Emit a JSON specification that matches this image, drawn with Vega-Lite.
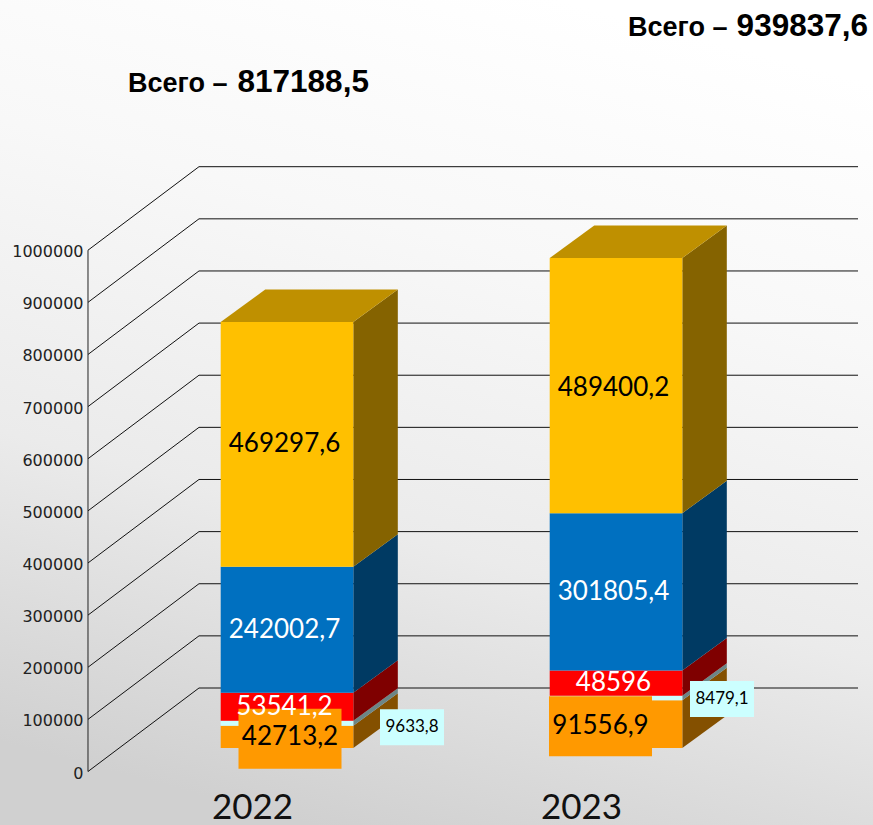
{
"$schema":"https://vega.github.io/schema/vega-lite/v6.json",
"width":873,"height":825,"padding":0,"autosize":{"type":"none"},
"background":"#ffffff",
"config":{"view":{"stroke":null}},
"datasets":{
"segments":[
{"year":2022,"series":"Ряд 1","order":1,"value":42713.2},
{"year":2022,"series":"Ряд 2","order":2,"value":9633.8},
{"year":2022,"series":"Ряд 3","order":3,"value":53541.2},
{"year":2022,"series":"Ряд 4","order":4,"value":242002.7},
{"year":2022,"series":"Ряд 5","order":5,"value":469297.6},
{"year":2023,"series":"Ряд 1","order":1,"value":91556.9},
{"year":2023,"series":"Ряд 2","order":2,"value":8479.1},
{"year":2023,"series":"Ряд 3","order":3,"value":48596},
{"year":2023,"series":"Ряд 4","order":4,"value":301805.4},
{"year":2023,"series":"Ряд 5","order":5,"value":489400.2}
],
"ticks":[{"tick":0},{"tick":100000},{"tick":200000},{"tick":300000},{"tick":400000},{"tick":500000},{"tick":600000},{"tick":700000},{"tick":800000},{"tick":900000},{"tick":1000000}],
"totals":[{"year":2022,"total":817188.5},{"year":2023,"total":939837.6}]
},
"data":{"name":"segments"},
"transform":[
{"stack":"value","groupby":["year"],"sort":[{"field":"order","order":"ascending"}],"as":["s0","s1"]},
{"calculate":"datum.s0+45080","as":"lo"},
{"calculate":"datum.s1+45080","as":"hi"},
{"calculate":"datum.year-0.2015","as":"left"},
{"calculate":"datum.year+0.2015","as":"right"},
{"calculate":"datum.order==1?(datum.year==2022?3:-15.5):datum.order==2?(datum.year==2022?125:106):-2.5","as":"dxp"},
{"calculate":"datum.order==2?(datum.year==2022?4:1):(datum.order==1&&datum.year==2023)?2:(datum.order==5&&datum.year==2023)?2:0","as":"dyp"},
{"calculate":"datum.year+datum.dxp/329","as":"lx"},
{"calculate":"(datum.lo+datum.hi)/2-datum.dyp*1918.3","as":"ly"}
],
"layer":[
{"data":{"values":[{"a":1}]},"transform":[],
"mark":{"type":"rect","color":{"gradient":"linear","x1":0.64,"y1":0,"x2":0.36,"y2":1,"stops":[{"offset":0,"color":"#ffffff"},{"offset":0.3,"color":"#f8f8f8"},{"offset":0.65,"color":"#ebebeb"},{"offset":0.83,"color":"#dddddd"},{"offset":1,"color":"#d0d0d0"}]}},
"encoding":{
"x":{"datum":2021.12766,"type":"quantitative","scale":{"domain":[2021.12766,2023.78116],"nice":false,"zero":false},
"axis":{"title":null,"values":[2022,2023],"format":"d","grid":false,"domain":false,"ticks":false,"labelFont":"Lato","labelFontSize":35,"labelColor":"#111111","labelOffset":-35,"labelBaseline":"alphabetic","labelPadding":0,"offset":-7,"labelOverlap":false,"labelFlush":false,"labelBound":false,"zindex":1}},
"x2":{"datum":2023.78116},
"y":{"datum":-102628,"type":"quantitative","scale":{"domain":[-102628,1479954],"nice":false,"zero":false},
"axis":{"title":null,"values":[0,100000,200000,300000,400000,500000,600000,700000,800000,900000,1000000],"format":"d","grid":false,"domain":false,"ticks":false,"labelFont":"DejaVu Sans","labelFontSize":16,"labelColor":"#222222","labelPadding":0,"labelOffset":1.5,"offset":-83,"labelOverlap":false,"labelBound":false,"labelFlush":false,"zindex":1}},
"y2":{"datum":1479954}
}},
{"data":{"name":"ticks"},"transform":[{"calculate":"datum.tick+160176","as":"gy"}],
"mark":{"type":"rule","stroke":"#111111","strokeWidth":1},
"encoding":{"x":{"datum":2021.3951,"type":"quantitative","axis":null},"x2":{"datum":2021.7325},"y":{"field":"tick","type":"quantitative","axis":null},"y2":{"field":"gy"}}},
{"data":{"name":"ticks"},"transform":[{"calculate":"datum.tick+160176","as":"gy"}],
"mark":{"type":"rule","stroke":"#111111","strokeWidth":1},
"encoding":{"x":{"datum":2021.7325,"type":"quantitative","axis":null},"x2":{"datum":2023.7356},"y":{"field":"gy","type":"quantitative","axis":null}}},
{"data":{"name":"ticks"},
"mark":{"type":"rule","stroke":"#222222","strokeWidth":1},
"encoding":{"x":{"datum":2021.3951,"type":"quantitative","axis":null},"y":{"aggregate":"min","field":"tick","type":"quantitative","axis":null},"y2":{"aggregate":"max","field":"tick"}}},
{"transform":[{"calculate":"[0,1]","as":"ts"},{"flatten":["ts"]},{"calculate":"datum.right+datum.ts*0.1353","as":"sx"},{"calculate":"datum.lo+datum.ts*62344","as":"sl"},{"calculate":"datum.hi+datum.ts*62344","as":"sh"}],
"mark":{"type":"area","line":false,"opacity":1},
"encoding":{"x":{"field":"sx","type":"quantitative","axis":null},"y":{"field":"sl","type":"quantitative","axis":null,"stack":null},"y2":{"field":"sh"},
"detail":[{"field":"year"},{"field":"series"}],
"color":{"field":"series","type":"nominal","legend":null,"scale":{"domain":["Ряд 1","Ряд 2","Ряд 3","Ряд 4","Ряд 5"],"range":["#845000","#6c8686","#7f0000","#003a63","#856300"]}}}},
{"transform":[{"filter":"datum.order==5"},{"calculate":"[0,1]","as":"ts"},{"flatten":["ts"]},{"calculate":"datum.left+datum.ts*0.1353","as":"tl"},{"calculate":"datum.right+datum.ts*0.1353","as":"tr"},{"calculate":"datum.hi+datum.ts*62344","as":"ty"}],
"mark":{"type":"area","orient":"horizontal","color":"#bf9000"},
"encoding":{"y":{"field":"ty","type":"quantitative","axis":null,"stack":null},"x":{"field":"tl","type":"quantitative","axis":null},"x2":{"field":"tr"},"detail":{"field":"year"}}},
{"mark":{"type":"rect"},
"encoding":{"x":{"field":"left","type":"quantitative","axis":null},"x2":{"field":"right"},"y":{"field":"lo","type":"quantitative","axis":null},"y2":{"field":"hi"},
"color":{"field":"series","type":"nominal","legend":null,"scale":{"domain":["Ряд 1","Ряд 2","Ряд 3","Ряд 4","Ряд 5"],"range":["#ff9900","#ccffff","#ff0000","#0070c0","#ffc000"]}}}},
{"transform":[{"filter":"datum.order<=2"},
{"calculate":"datum.order==1?51.5:32","as":"hw"},{"calculate":"datum.order==1?30:18","as":"hh"},
{"calculate":"datum.lx-datum.hw/329","as":"bx"},{"calculate":"datum.lx+datum.hw/329","as":"bx2"},
{"calculate":"datum.ly-datum.hh*1918.3-(datum.order==1&&datum.year==2022?2:0)*1918.3","as":"by"},{"calculate":"datum.ly+datum.hh*1918.3-(datum.order==1&&datum.year==2022?2:0)*1918.3","as":"by2"}],
"mark":{"type":"rect"},
"encoding":{"x":{"field":"bx","type":"quantitative","axis":null},"x2":{"field":"bx2"},"y":{"field":"by","type":"quantitative","axis":null},"y2":{"field":"by2"},
"color":{"field":"series","type":"nominal","legend":null,"scale":{"domain":["Ряд 1","Ряд 2"],"range":["#ff9900","#ccffff"]}}}},
{"transform":[{"filter":"datum.order!=2"},{"calculate":"replace(format(datum.value,datum.value==48596?'d':'.1f'),'.',',')","as":"txt"}],
"mark":{"type":"text","font":"Lato","fontSize":26,"baseline":"middle","align":"center"},
"encoding":{"x":{"field":"lx","type":"quantitative","axis":null},"y":{"field":"ly","type":"quantitative","axis":null},"text":{"field":"txt"},
"color":{"field":"series","type":"nominal","legend":null,"scale":{"domain":["Ряд 1","Ряд 3","Ряд 4","Ряд 5"],"range":["#000000","#ffffff","#ffffff","#000000"]}}}},
{"transform":[{"filter":"datum.order==2"},{"calculate":"replace(format(datum.value,'.1f'),'.',',')","as":"txt"}],
"mark":{"type":"text","font":"Lato","fontSize":17,"baseline":"middle","align":"center","color":"#000000"},
"encoding":{"x":{"field":"lx","type":"quantitative","axis":null},"y":{"field":"ly","type":"quantitative","axis":null},"text":{"field":"txt"}}},
{"data":{"name":"totals"},"transform":[{"calculate":"datum.total+(datum.year==2022?486284:471053)","as":"ty"},{"calculate":"datum.year==2022?2021.5167:2023.0365","as":"tx"}],
"mark":{"type":"text","font":"Liberation Sans","fontWeight":"bold","fontSize":27,"align":"left","baseline":"alphabetic","color":"#000000"},
"encoding":{"x":{"field":"tx","type":"quantitative","axis":null},"y":{"field":"ty","type":"quantitative","axis":null},"text":{"value":"Всего –"}}},
{"data":{"name":"totals"},"transform":[{"calculate":"datum.total+(datum.year==2022?486284:471053)","as":"ty"},{"calculate":"datum.year==2022?2022.249:2023.766","as":"tx"},{"calculate":"replace(format(datum.total,'.1f'),'.',',')","as":"txt"}],
"mark":{"type":"text","font":"Liberation Sans","fontWeight":"bold","fontSize":31.5,"align":"right","baseline":"alphabetic","color":"#000000"},
"encoding":{"x":{"field":"tx","type":"quantitative","axis":null},"y":{"field":"ty","type":"quantitative","axis":null},"text":{"field":"txt"}}}
],
"resolve":{"scale":{"color":"independent"},"axis":{"x":"independent","y":"independent"}}
}
